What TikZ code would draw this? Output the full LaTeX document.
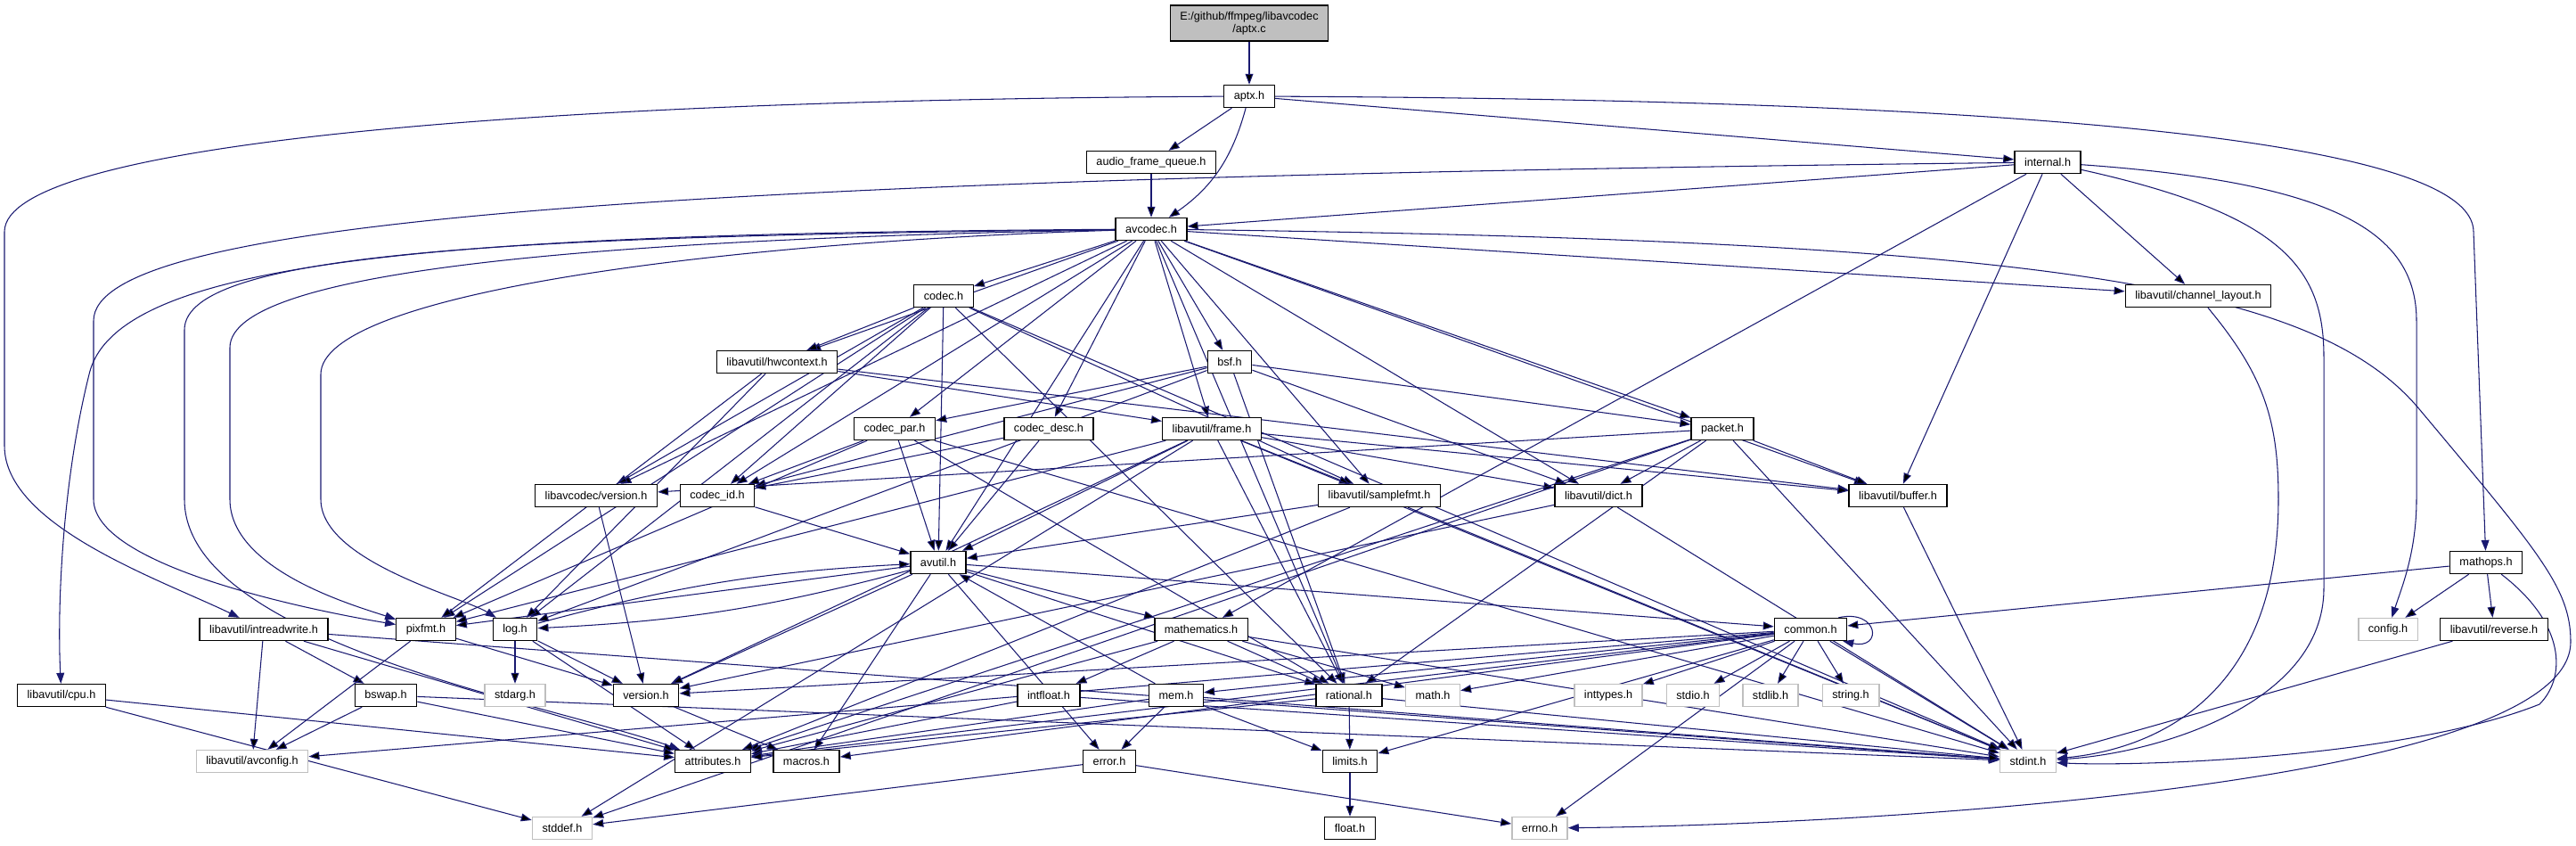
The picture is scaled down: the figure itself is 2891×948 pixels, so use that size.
\documentclass[tikz,border=0pt]{standalone}
\usepackage{fontspec}
\setmainfont{Liberation Sans}
\usetikzlibrary{arrows.meta}
\definecolor{edgeblue}{HTML}{191970}
\definecolor{boxgray}{HTML}{BFBFBF}
\pgfdeclarelayer{bg}
\pgfsetlayers{bg,main}

\begin{document}
\begin{tikzpicture}[
        x=0.02cm, y=-0.02cm,
        font=\fontsize{7.2}{7.9}\selectfont,
        hdr/.style={draw, line width=0.8pt, rectangle, fill=white, inner xsep=6.3pt, inner ysep=0pt, minimum height=0.5cm},
        sys/.style={hdr, draw=boxgray},
        src/.style={hdr, fill=boxgray, align=center, minimum height=0.8cm},
        inc/.style={draw=edgeblue, line width=0.6pt, -{Triangle[length=6.8pt, width=5pt]}}
    ]
    \useasboundingbox (0,0) rectangle (2891,948);

    \node[src] (aptxc) at (1402,26) {E:/github/ffmpeg/libavcodec\\/aptx.c};
    \node[hdr] (aptxh) at (1402,108) {aptx.h};
    \node[hdr] (afq) at (1292,182) {audio\_frame\_queue.h};
    \node[hdr] (internal) at (2298,182) {internal.h};
    \node[hdr] (avcodec) at (1292,257) {avcodec.h};
    \node[hdr] (codec) at (1059,332) {codec.h};
    \node[hdr] (chlayout) at (2467,332) {libavutil/channel\_layout.h};
    \node[hdr] (hwctx) at (872,406) {libavutil/hwcontext.h};
    \node[hdr] (bsf) at (1380,406) {bsf.h};
    \node[hdr] (codecpar) at (1004,481) {codec\_par.h};
    \node[hdr] (codecdesc) at (1177,481) {codec\_desc.h};
    \node[hdr] (frame) at (1360,481) {libavutil/frame.h};
    \node[hdr] (packet) at (1933,481) {packet.h};
    \node[hdr] (lavcver) at (669,556) {libavcodec/version.h};
    \node[hdr] (codecid) at (805,556) {codec\_id.h};
    \node[hdr] (samplefmt) at (1548,556) {libavutil/samplefmt.h};
    \node[hdr] (dict) at (1794,556) {libavutil/dict.h};
    \node[hdr] (buffer) at (2130,556) {libavutil/buffer.h};
    \node[hdr] (avutil) at (1053,631) {avutil.h};
    \node[hdr] (mathops) at (2790,631) {mathops.h};
    \node[hdr] (intrw) at (296,706) {libavutil/intreadwrite.h};
    \node[hdr] (pixfmt) at (478,706) {pixfmt.h};
    \node[hdr] (log) at (578,706) {log.h};
    \node[hdr] (mathem) at (1348,706) {mathematics.h};
    \node[hdr] (common) at (2032,706) {common.h};
    \node[sys] (config) at (2680,706) {config.h};
    \node[hdr] (reverse) at (2799,706) {libavutil/reverse.h};
    \node[hdr] (cpu) at (69,780) {libavutil/cpu.h};
    \node[hdr] (bswap) at (433,780) {bswap.h};
    \node[sys] (stdarg) at (578,780) {stdarg.h};
    \node[hdr] (version) at (725,780) {version.h};
    \node[hdr] (intfloat) at (1177,780) {intfloat.h};
    \node[hdr] (mem) at (1320,780) {mem.h};
    \node[hdr] (rational) at (1514,780) {rational.h};
    \node[sys] (mathh) at (1608,780) {math.h};
    \node[sys] (inttypes) at (1805,780) {inttypes.h};
    \node[sys] (stdio) at (1900,780) {stdio.h};
    \node[sys] (stdlib) at (1987,780) {stdlib.h};
    \node[sys] (stringh) at (2077,780) {string.h};
    \node[sys] (avconfig) at (283,854) {libavutil/avconfig.h};
    \node[hdr] (attributes) at (800,854) {attributes.h};
    \node[hdr] (macros) at (905,854) {macros.h};
    \node[hdr] (error) at (1245,854) {error.h};
    \node[hdr] (limits) at (1515,854) {limits.h};
    \node[sys] (stdint) at (2276,854) {stdint.h};
    \node[sys] (stddef) at (631,929) {stddef.h};
    \node[hdr] (floath) at (1515,929) {float.h};
    \node[sys] (errno) at (1728,929) {errno.h};

    \begin{pgfonlayer}{bg}
    \path[inc] (aptxc) edge (aptxh);
    \path[inc] (aptxh) edge (afq) edge[bend left=20] (avcodec) edge (internal);
    \draw[inc] (aptxh) .. controls (600,112) and (5,160) .. (5,260) -- (5,500) .. controls (5,590) and (180,650) .. (intrw);
    \draw[inc] (aptxh) .. controls (2300,112) and (2776,160) .. (2776,260) -- (mathops);
    \path[inc] (afq) edge (avcodec);
    \path[inc] (internal) edge (avcodec) edge (chlayout) edge (buffer) edge (mathem);
    \draw[inc] (internal) .. controls (700,200) and (105,250) .. (105,360) -- (105,560) .. controls (105,640) and (380,690) .. (pixfmt);
    \draw[inc] (internal) .. controls (2620,205) and (2712,260) .. (2712,360) -- (2712,560) .. controls (2712,620) and (2695,660) .. (config);
    \draw[inc] (internal) .. controls (2560,240) and (2608,300) .. (2608,400) -- (2608,660) .. controls (2608,790) and (2420,845) .. (stdint);
    \path[inc] (avcodec) edge (codec) edge (bsf) edge (codecdesc) edge (codecpar) edge (frame) edge (packet)
        edge (lavcver) edge (codecid) edge (samplefmt) edge (dict) edge (buffer) edge (hwctx)
        edge (chlayout) edge (avutil) edge (rational);
    \draw[inc] (avcodec) .. controls (500,262) and (130,290) .. (100,420) .. controls (70,540) and (64,680) .. (cpu);
    \draw[inc] (avcodec) .. controls (600,265) and (207,280) .. (207,370) -- (207,560) .. controls (207,720) and (620,790) .. (attributes);
    \draw[inc] (avcodec) .. controls (700,268) and (258,300) .. (258,390) -- (258,560) .. controls (258,640) and (400,680) .. (pixfmt);
    \draw[inc] (avcodec) .. controls (800,272) and (360,330) .. (360,420) -- (360,560) .. controls (360,630) and (520,670) .. (log);
    \draw[inc] (avcodec) .. controls (2300,270) and (2600,320) .. (2716,460) .. controls (2850,620) and (2885,660) .. (2885,720) .. controls (2885,880) and (2100,925) .. (errno);
    \path[inc] (codec) edge (hwctx) edge (codecid) edge (lavcver) edge (avutil) edge (samplefmt) edge (log)
        edge (pixfmt) edge (rational) edge (stdint);
    \path[inc] (hwctx) edge (buffer) edge (frame) edge (log) edge (pixfmt);
    \path[inc] (bsf) edge (codecpar) edge (codecid) edge (packet) edge (dict) edge (log) edge (rational);
    \path[inc] (codecpar) edge (codecid) edge (avutil) edge (pixfmt) edge (rational) edge (stdint);
    \path[inc] (codecdesc) edge (codecid) edge (avutil);
    \path[inc] (frame) edge (avutil) edge (buffer) edge (dict) edge (rational) edge (samplefmt) edge (pixfmt)
        edge (version) edge (stddef) edge (stdint);
    \path[inc] (packet) edge (lavcver) edge (buffer) edge (dict) edge (rational) edge (attributes) edge (stddef) edge (stdint);
    \path[inc] (lavcver) edge (version);
    \path[inc] (codecid) edge (avutil);
    \path[inc] (samplefmt) edge (avutil) edge (attributes) edge (stdint);
    \path[inc] (dict) edge (version) edge (stdint);
    \path[inc] (buffer) edge (stdint);
    \draw[inc] (chlayout) .. controls (2540,420) and (2557,470) .. (2557,560) .. controls (2557,780) and (2420,840) .. (stdint);
    \path[inc] (avutil) edge (common) edge (error) edge (version) edge (macros) edge (mathem) edge (rational)
        edge[bend left=6] (log) edge (pixfmt);
    \path[inc] (mathops) edge (common) edge (config) edge (reverse);
    \draw[inc] (mathops) .. controls (2880,700) and (2880,760) .. (2850,790) .. controls (2700,850) and (2400,860) .. (stdint);
    \path[inc] (intrw) edge (avconfig) edge (attributes) edge (bswap) edge (stdint);
    \path[inc] (pixfmt) edge (avconfig) edge (version);
    \path[inc] (log) edge[bend left=6] (avutil) edge (stdarg) edge (attributes) edge (version);
    \path[inc] (mathem) edge (intfloat) edge (rational) edge (mathh) edge (attributes) edge (stdint);
    \path[inc] (common) edge (attributes) edge (macros) edge (version) edge (avconfig) edge (errno) edge (inttypes)
        edge (limits) edge (mathh) edge (stdint) edge (stdio) edge (stdlib) edge (stringh) edge (mem);
    \draw[inc] ([xshift=-0.2cm]common.north east) .. controls +(45,-10) and +(45,10) .. ([xshift=-0.1cm]common.south east);
    \path[inc] (reverse) edge (stdint);
    \path[inc] (cpu) edge (attributes) edge (stddef);
    \path[inc] (bswap) edge (avconfig) edge (attributes) edge (stdint);
    \path[inc] (version) edge (macros);
    \path[inc] (intfloat) edge (attributes) edge (stdint);
    \path[inc] (mem) edge (avutil) edge (error) edge (limits) edge (attributes) edge (stdint);
    \path[inc] (rational) edge (limits) edge (attributes) edge (stdint);
    \path[inc] (error) edge (errno) edge (stddef);
    \path[inc] (limits) edge (floath);
    \end{pgfonlayer}
\end{tikzpicture}
\end{document}
